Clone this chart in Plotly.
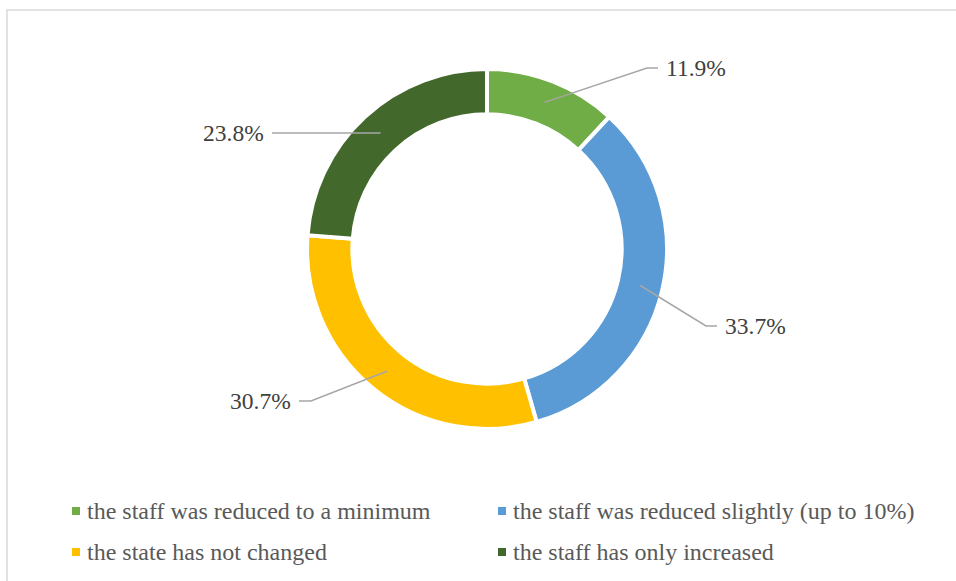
import math
import plotly.graph_objects as go

# Survey answers: how the staff headcount changed
categories = [
    "the staff was reduced to a minimum",
    "the staff was reduced slightly (up to 10%)",
    "the state has not changed",
    "the staff has only increased",
]
shares = [11.9, 33.7, 30.7, 23.8]
label_text = ["11.9%", "33.7%", "30.7%", "23.8%"]
colors = ["#70AD47", "#5B9BD5", "#FFC000", "#43682B"]

W, H = 956, 581
CX, CY = 487, 249          # ring centre in px
R = 180                    # outer radius in px (incl. separator stroke)
HOLE = 0.748
SEP = 4                    # white gap between slices
R_MID = 157.5              # radius where leader lines start

# leader line layout per slice: elbow x offset, label y offset, line end x offset (px from centre)
leader_layout = [
    (160, -181, 171),
    (219, 77, 230),
    (-176, 152, -188),
    (-107, -116, -215),
]

FONT = "Liberation Serif, Times New Roman, serif"


def px(x):
    return x / W


def py(y):
    return 1 - y / H


fig = go.Figure(
    go.Pie(
        labels=categories,
        values=shares,
        sort=False,
        direction="clockwise",
        rotation=0,
        hole=HOLE,
        textinfo="none",
        hoverinfo="label+percent",
        marker=dict(colors=colors, line=dict(color="white", width=SEP)),
        domain=dict(x=[px(CX - R), px(CX + R)], y=[py(CY + R), py(CY - R)]),
        showlegend=False,
    )
)

shapes = []
annotations = []

# outer chart frame
shapes.append(dict(type="rect", xref="paper", yref="paper",
                   x0=px(7), x1=1.05, y0=-0.05, y1=py(10),
                   line=dict(color="#D9D9D9", width=1.5), fillcolor="rgba(0,0,0,0)"))

# data labels with leader lines, anchored at each slice's mid angle
total = sum(shares)
cum = 0.0
for val, txt, (ex, ly, endx) in zip(shares, label_text, leader_layout):
    mid = (cum + val / 2) / total * 2 * math.pi
    cum += val
    sx = CX + R_MID * math.sin(mid)
    sy = CY - R_MID * math.cos(mid)
    elx, ely = CX + ex, CY + ly
    enx = CX + endx
    path = (f"M {px(sx)},{py(sy)} L {px(elx)},{py(ely)} L {px(enx)},{py(ely)}")
    shapes.append(dict(type="path", xref="paper", yref="paper", path=path,
                       line=dict(color="#A6A6A6", width=1.5)))
    right = endx > 0
    annotations.append(dict(
        xref="paper", yref="paper",
        x=px(enx + (6 if right else -6)), y=py(ely),
        xanchor="left" if right else "right", yanchor="middle",
        text=txt, showarrow=False,
        font=dict(family=FONT, size=23.5, color="#404040"),
    ))

# legend: two columns, two rows
legend_cols = [76, 502]
legend_rows = [511, 552]
SQ = 4
for i, (name, col) in enumerate(zip(categories, colors)):
    mx = legend_cols[i % 2]
    my = legend_rows[i // 2]
    shapes.append(dict(type="rect", xref="paper", yref="paper",
                       x0=px(mx - SQ), x1=px(mx + SQ), y0=py(my + SQ), y1=py(my - SQ),
                       fillcolor=col, line=dict(width=0)))
    annotations.append(dict(
        xref="paper", yref="paper", x=px(mx + 9), y=py(my),
        xanchor="left", yanchor="middle", text=name, showarrow=False,
        font=dict(family=FONT, size=24, color="#595959"),
    ))

fig.update_layout(
    width=W, height=H,
    margin=dict(l=0, r=0, t=0, b=0),
    paper_bgcolor="white",
    plot_bgcolor="white",
    shapes=shapes,
    annotations=annotations,
)

fig.write_html("out.html")
